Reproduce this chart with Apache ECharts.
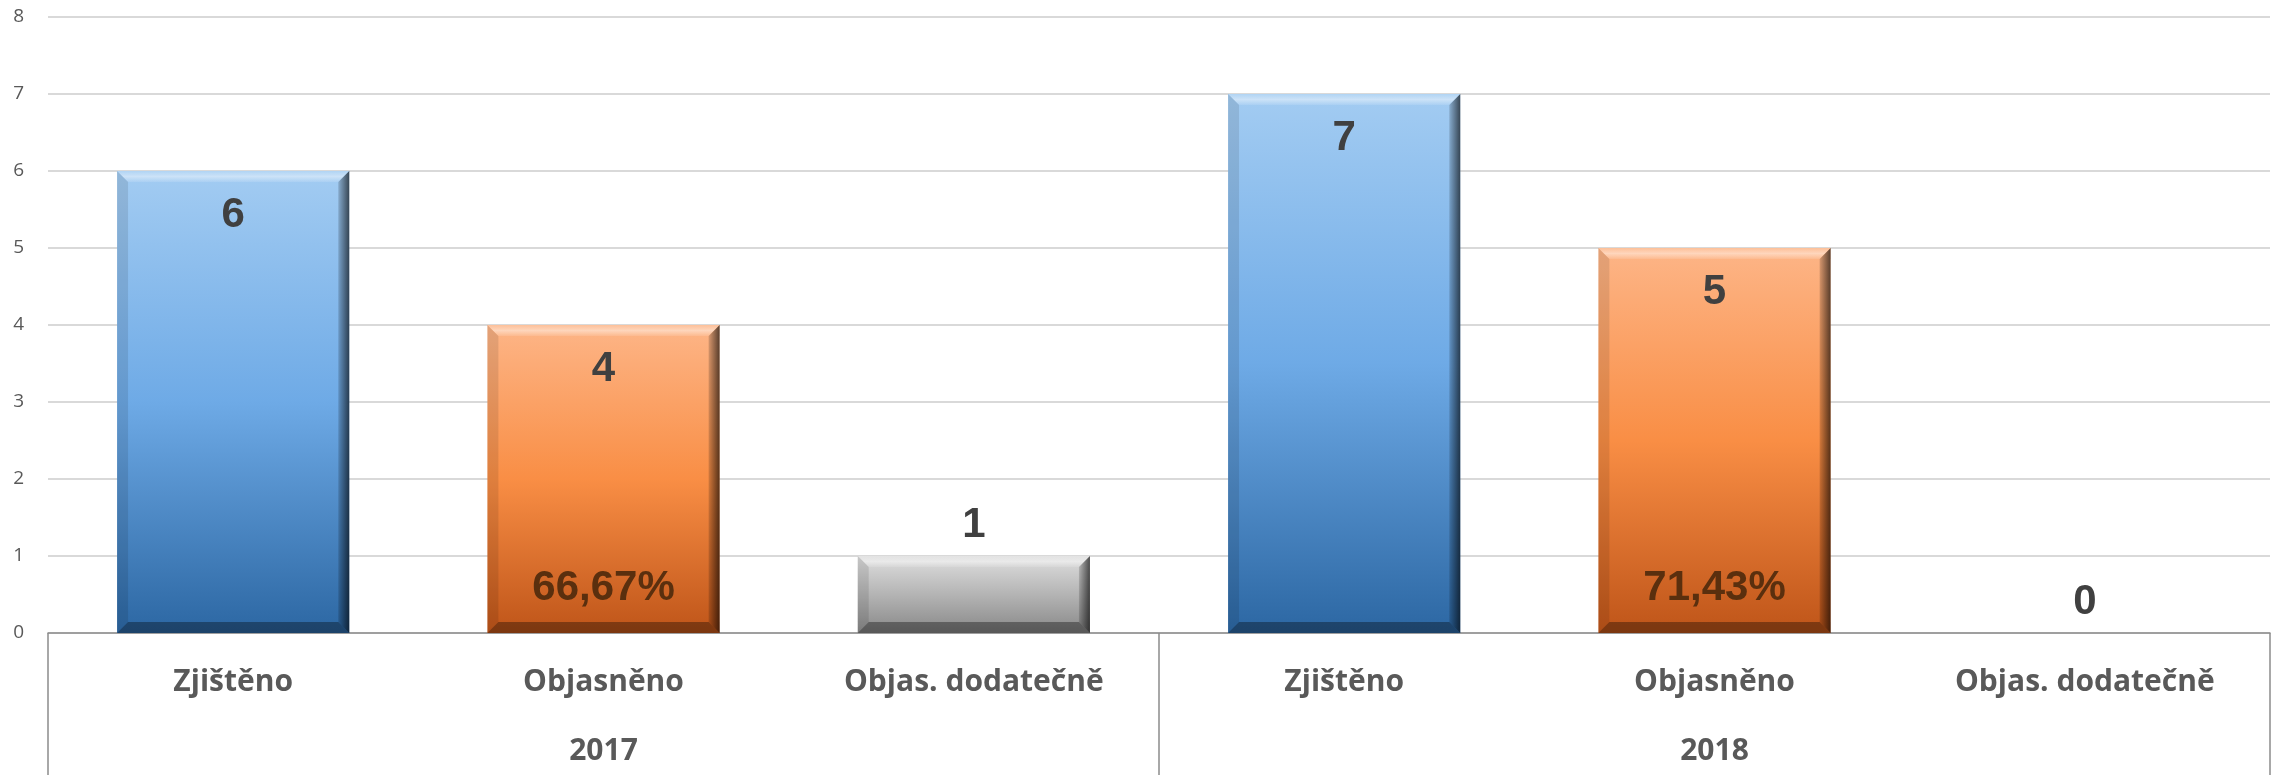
<!DOCTYPE html>
<html>
<head>
<meta charset="utf-8">
<script src="https://cdn.jsdelivr.net/npm/echarts@6/dist/echarts.min.js"></script>
<style>
html,body{margin:0;padding:0;background:#fff;}
#chart{width:2275px;height:775px;}
</style>
</head>
<body>
<div id="chart"></div>
<script>
// ---- data ----
const categories = ['Zjištěno', 'Objasněno', 'Objas. dodatečně', 'Zjištěno', 'Objasněno', 'Objas. dodatečně'];
const years = ['2017', '2018'];
const values = [6, 4, 1, 7, 5, 0];
const percentLabels = ['', '66,67%', '', '', '71,43%', ''];
const yTicks = [0, 1, 2, 3, 4, 5, 6, 7, 8];

// ---- styles ----
const palettes = [
  [['#a3ccf2', 0], ['#6eaae6', 0.5], ['#2c67a3', 1]],   // blue
  [['#fdb587', 0], ['#f98e45', 0.5], ['#bf5519', 1]],   // orange
  [['#dedede', 0], ['#b4b4b4', 0.5], ['#888888', 1]]    // gray
];
function grad(p) {
  return new echarts.graphic.LinearGradient(0, 0, 0, 1, p.map(s => ({offset: s[1], color: s[0]})));
}

const chart = echarts.init(document.getElementById('chart'));

function renderItem(params, api) {
  const idx = api.value(0);
  const val = api.value(1);
  const top = api.coord([idx, val]);
  const base = api.coord([idx, 0]);
  const band = api.size([1, 0])[0];
  const w = band * 0.627;
  const x0 = top[0] - w / 2, x1 = top[0] + w / 2;
  const y0 = top[1], y1 = base[1];
  const children = [];
  const valFont = 'bold 42px "Liberation Sans", Arial, sans-serif';
  if (val > 0) {
    const b = Math.min(11, (y1 - y0) / 2);
    children.push({type: 'rect', shape: {x: x0, y: y0, width: w, height: y1 - y0},
      style: {fill: grad(palettes[idx % 3])}});
    // top bevel (highlight)
    children.push({type: 'polygon', shape: {points: [[x0, y0], [x1, y0], [x1 - b, y0 + b], [x0 + b, y0 + b]]},
      style: {fill: new echarts.graphic.LinearGradient(0, 0, 0, 1, [
        {offset: 0, color: 'rgba(255,255,255,0.15)'}, {offset: 0.5, color: 'rgba(255,255,255,0.45)'},
        {offset: 1, color: 'rgba(255,255,255,0.1)'}])}});
    // left bevel
    children.push({type: 'polygon', shape: {points: [[x0, y0], [x0 + b, y0 + b], [x0 + b, y1 - b], [x0, y1]]},
      style: {fill: 'rgba(0,0,0,0.10)'}});
    // right bevel (dark)
    children.push({type: 'polygon', shape: {points: [[x1, y0], [x1, y1], [x1 - b, y1 - b], [x1 - b, y0 + b]]},
      style: {fill: new echarts.graphic.LinearGradient(0, 0, 1, 0, [
        {offset: 0, color: 'rgba(0,0,0,0.15)'}, {offset: 1, color: 'rgba(0,0,0,0.65)'}])}});
    // bottom bevel (dark)
    children.push({type: 'polygon', shape: {points: [[x0, y1], [x1, y1], [x1 - b, y1 - b], [x0 + b, y1 - b]]},
      style: {fill: 'rgba(0,0,0,0.35)'}});
  }
  // value label
  const inside = (y1 - y0) > 120;
  children.push({type: 'text', x: top[0], y: inside ? y0 + 44 : y0 - 31,
    style: {text: String(val), font: valFont, fill: '#404040', align: 'center', verticalAlign: 'middle'}});
  const pl = percentLabels[idx];
  if (pl) {
    children.push({type: 'text', x: top[0], y: y1 - 45,
      style: {text: pl, font: valFont, fill: '#5a2f0e', align: 'center', verticalAlign: 'middle'}});
  }
  return {type: 'group', children: children};
}

const option = {
  animation: false,
  grid: {left: 48, right: 5, top: 17, bottom: 142, containLabel: false},
  xAxis: [
    {
      type: 'category', data: categories, position: 'bottom',
      axisLine: {show: true, lineStyle: {color: '#8c8c8c', width: 1.5}},
      axisTick: {show: false},
      axisLabel: {interval: 0, margin: 34, fontFamily: 'Open Sans', fontWeight: 'bold', fontSize: 30, color: '#595959'}
    },
    {
      type: 'category', data: years, position: 'bottom', gridIndex: 0,
      axisLine: {show: false},
      axisTick: {show: true, length: 142, lineStyle: {color: '#8c8c8c', width: 1.5}},
      axisLabel: {interval: 0, margin: 103, fontFamily: 'Open Sans', fontWeight: 'bold', fontSize: 30, color: '#595959'}
    }
  ],
  yAxis: {
    type: 'value', min: yTicks[0], max: yTicks[yTicks.length - 1], interval: 1,
    axisLine: {show: false}, axisTick: {show: false},
    splitLine: {lineStyle: {color: '#d9d9d9', width: 2}},
    axisLabel: {margin: 24, fontFamily: 'Open Sans', fontSize: 19, color: '#595959'}
  },
  series: [{
    type: 'custom', xAxisIndex: 0, yAxisIndex: 0, clip: false,
    renderItem: renderItem,
    data: values.map((v, i) => [i, v])
  }]
};
chart.setOption(option);
</script>
</body>
</html>
